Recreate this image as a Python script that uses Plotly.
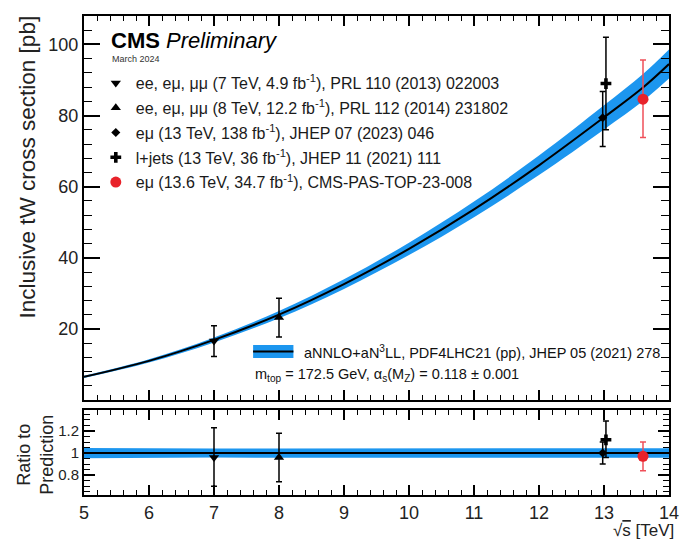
import plotly.graph_objects as go

# ---------------- data ----------------
sqrt_s = [5, 6, 7, 8, 9, 10, 11, 12, 13, 13.6, 14]
theory = [6.5, 11.0, 16.9, 24.0, 32.6, 42.5, 53.6, 66.0, 79.5, 87.9, 94.5]
theory_unc = [0.3, 0.45, 0.7, 1.0, 1.35, 1.75, 2.2, 2.75, 3.4, 3.8, 4.1]

meas_labels = [
    "ee, eμ, μμ (7 TeV, 4.9 fb<sup>-1</sup>), PRL 110 (2013) 022003",
    "ee, eμ, μμ (8 TeV, 12.2 fb<sup>-1</sup>), PRL 112 (2014) 231802",
    "eμ (13 TeV, 138 fb<sup>-1</sup>), JHEP 07 (2023) 046",
    "l+jets (13 TeV, 36 fb<sup>-1</sup>), JHEP 11 (2021) 111",
    "eμ (13.6 TeV, 34.7 fb<sup>-1</sup>), CMS-PAS-TOP-23-008",
]
meas_x = [7, 8, 12.98, 13.03, 13.6]
meas_y = [16.6, 23.2, 79.4, 89.0, 84.6]
meas_up = [4.3, 5.4, 7.4, 13.0, 11.0]
meas_dn = [4.4, 5.5, 8.1, 13.0, 10.8]
ratio_y = [0.96, 0.96, 1.0, 1.12, 0.97]
ratio_up = [0.27, 0.22, 0.10, 0.17, 0.13]
ratio_dn = [0.26, 0.22, 0.10, 0.16, 0.13]
symbols = ["triangle-down", "triangle-up", "diamond", "cross", "circle"]
sizes = [9, 9, 7, 9, 11]
colors = ["black", "black", "black", "black", "#e8222a"]
err_colors = ["black", "black", "black", "black", "#f0505a"]

theory_label = "aNNLO+aN<sup>3</sup>LL, PDF4LHC21 (pp), JHEP 05 (2021) 278"
theory_label2 = "m<sub>top</sub> = 172.5 GeV, α<sub>s</sub>(M<sub>Z</sub>) = 0.118 ± 0.001"

BAND = "#1c96ef"
FONT = "Liberation Sans"

# ---------------- geometry (pixels) ----------------
W, H = 687, 541
ML, MR, MT, MB = 84, 8, 16, 46
PW, PH = W - ML - MR, H - MT - MB


def px(x):
    return (x - ML) / PW


def py(y):
    return (H - MB - y) / PH


fig = go.Figure()

# theory band (main)
lo = [t - u for t, u in zip(theory, theory_unc)]
hi = [t + u for t, u in zip(theory, theory_unc)]
fig.add_trace(go.Scatter(x=sqrt_s, y=lo, mode="lines", line=dict(width=0, color=BAND, shape="spline"),
                         showlegend=False, hoverinfo="skip", xaxis="x", yaxis="y"))
fig.add_trace(go.Scatter(x=sqrt_s, y=hi, mode="lines", line=dict(width=0, color=BAND, shape="spline"),
                         fill="tonexty", fillcolor=BAND, showlegend=False, hoverinfo="skip", xaxis="x", yaxis="y"))
fig.add_trace(go.Scatter(x=sqrt_s, y=theory, mode="lines", line=dict(width=2, color="black", shape="spline"),
                         showlegend=False, hoverinfo="skip", xaxis="x", yaxis="y"))

# theory band (ratio)
rel = [u / t for t, u in zip(theory, theory_unc)]
fig.add_trace(go.Scatter(x=sqrt_s, y=[1 - r for r in rel], mode="lines", line=dict(width=0, color=BAND),
                         showlegend=False, hoverinfo="skip", xaxis="x2", yaxis="y2"))
fig.add_trace(go.Scatter(x=sqrt_s, y=[1 + r for r in rel], mode="lines", line=dict(width=0, color=BAND),
                         fill="tonexty", fillcolor=BAND, showlegend=False, hoverinfo="skip", xaxis="x2", yaxis="y2"))
fig.add_trace(go.Scatter(x=sqrt_s, y=[1] * len(sqrt_s), mode="lines", line=dict(width=2, color="black"),
                         showlegend=False, hoverinfo="skip", xaxis="x2", yaxis="y2"))

# measurements
for i in range(len(meas_x)):
    fig.add_trace(go.Scatter(
        x=[meas_x[i]], y=[meas_y[i]], mode="markers", name=meas_labels[i],
        legendgroup=f"g{i}",
        marker=dict(symbol=symbols[i], size=sizes[i], color=colors[i], line=dict(width=0)),
        error_y=dict(type="data", symmetric=False, array=[meas_up[i]], arrayminus=[meas_dn[i]],
                     color=err_colors[i], thickness=1.5, width=3),
        xaxis="x", yaxis="y"))
    fig.add_trace(go.Scatter(
        x=[meas_x[i]], y=[ratio_y[i]], mode="markers", showlegend=False,
        marker=dict(symbol=symbols[i], size=sizes[i], color=colors[i], line=dict(width=0)),
        error_y=dict(type="data", symmetric=False, array=[ratio_up[i]], arrayminus=[ratio_dn[i]],
                     color=err_colors[i], thickness=1.5, width=3),
        xaxis="x2", yaxis="y2"))

main_bottom = py(400)
ratio_top = py(410)

axis_common = dict(showline=True, linewidth=2, linecolor="black", mirror="allticks",
                   ticks="inside", tickcolor="black", showgrid=False, zeroline=False)

fig.update_layout(
    width=W, height=H,
    margin=dict(l=ML, r=MR, t=MT, b=MB),
    paper_bgcolor="white", plot_bgcolor="white",
    font=dict(family=FONT, color="black"),
    showlegend=True,
    legend=dict(x=px(96), y=py(66), xanchor="left", yanchor="top", bgcolor="rgba(0,0,0,0)",
                font=dict(size=16, family=FONT, color="#1a1a1a"), traceorder="grouped", tracegroupgap=1,
                itemwidth=30),
    xaxis=dict(domain=[0, 1], anchor="y", range=[5, 14], dtick=1, tick0=5, showticklabels=False,
               ticklen=10, tickwidth=1.5, minor=dict(dtick=0.2, ticklen=5, tickwidth=1.2, ticks="inside"),
               matches="x2", **axis_common),
    yaxis=dict(domain=[main_bottom, 1], anchor="x", range=[0, 108],
               tickmode="array", tickvals=[20, 40, 60, 80, 100],
               ticklen=16, tickwidth=1.5, tickfont=dict(size=18, color="#222"),
               minor=dict(tickmode="linear", dtick=4, tick0=0, ticklen=8, tickwidth=1.2, ticks="inside"),
               **axis_common),
    xaxis2=dict(domain=[0, 1], anchor="y2", range=[5, 14], dtick=1, tick0=5,
                ticklen=10, tickwidth=1.5, tickfont=dict(size=18, color="#222"),
                ticklabeloverflow="allow",
                minor=dict(dtick=0.2, ticklen=5, tickwidth=1.2, ticks="inside"), **axis_common),
    yaxis2=dict(domain=[0, ratio_top], anchor="x2", range=[0.62, 1.39],
                tickmode="array", tickvals=[0.8, 1.0, 1.2], ticktext=["0.8", "1", "1.2"],
                ticklen=11, tickwidth=1.5, tickfont=dict(size=15, color="#222"),
                minor=dict(tickmode="linear", dtick=0.05, tick0=0, ticklen=6, tickwidth=1.2, ticks="inside"),
                **axis_common),
)

ann = []
ann.append(dict(x=px(109), y=py(40), xref="paper", yref="paper", xanchor="left", yanchor="middle",
                text="<b>CMS</b> <i>Preliminary</i>", showarrow=False, font=dict(size=22, color="black")))
ann.append(dict(x=px(110), y=py(59), xref="paper", yref="paper", xanchor="left", yanchor="middle",
                text="March 2024", showarrow=False, font=dict(size=9, color="#333")))
ann.append(dict(x=px(306), y=py(352), xref="paper", yref="paper", xanchor="left", yanchor="middle",
                text=theory_label, showarrow=False, font=dict(size=14.5, color="#111")))
ann.append(dict(x=px(256), y=py(375), xref="paper", yref="paper", xanchor="left", yanchor="middle",
                text=theory_label2, showarrow=False, font=dict(size=14.5, color="#111")))
ann.append(dict(x=px(686), y=py(530), xref="paper", yref="paper", xanchor="right", yanchor="middle",
                text="√<span style='text-decoration:overline'>s</span> [TeV]", showarrow=False,
                font=dict(size=17, color="#222")))
ann.append(dict(x=px(27), y=py(13), xref="paper", yref="paper", xanchor="center", yanchor="top",
                text="Inclusive tW cross section [pb]", textangle=-90, showarrow=False,
                font=dict(size=22.5, color="#222")))
ann.append(dict(x=px(34), y=py(455), xref="paper", yref="paper", xanchor="center", yanchor="middle",
                text="Ratio to<br>Prediction", textangle=-90, showarrow=False,
                font=dict(size=18, color="#222")))
fig.update_layout(annotations=ann)

# legend key for the theory band
fig.add_shape(type="rect", xref="paper", yref="paper", x0=px(256), x1=px(297), y0=py(358), y1=py(345),
              fillcolor=BAND, line=dict(width=0))
fig.add_shape(type="line", xref="paper", yref="paper", x0=px(256), x1=px(297), y0=py(351.5), y1=py(351.5),
              line=dict(width=2, color="black"))

fig.write_html("out.html")
